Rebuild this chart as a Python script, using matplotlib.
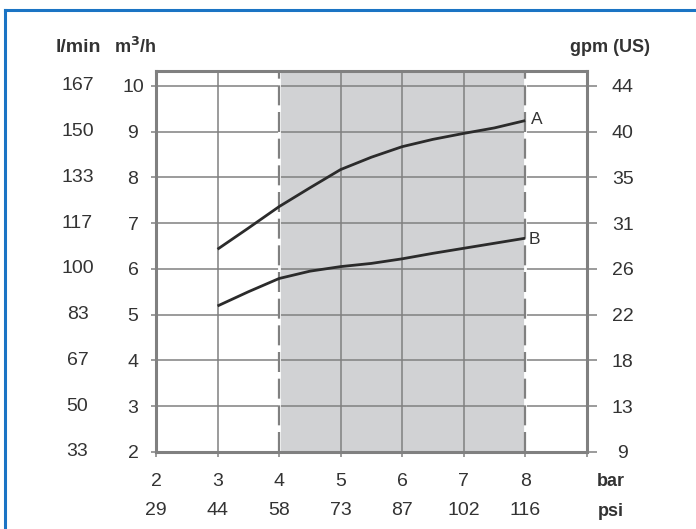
import matplotlib
matplotlib.use("Agg")
import matplotlib.pyplot as plt
from matplotlib.lines import Line2D

# ---- data ----
bar_ticks = [2, 3, 4, 5, 6, 7, 8]
psi_labels = ["29", "44", "58", "73", "87", "102", "116"]
m3h_ticks = [2, 3, 4, 5, 6, 7, 8, 9, 10]
lmin_labels = ["33", "50", "67", "83", "100", "117", "133", "150", "167"]
gpm_labels = ["9", "13", "18", "22", "26", "31", "35", "40", "44"]

pressure = [3, 3.5, 4, 4.5, 5, 5.5, 6, 6.5, 7, 7.5, 8]
flow_A = [6.43, 6.89, 7.36, 7.77, 8.17, 8.44, 8.67, 8.83, 8.96, 9.08, 9.24]
flow_B = [5.19, 5.50, 5.79, 5.95, 6.05, 6.12, 6.22, 6.34, 6.45, 6.56, 6.67]
shade_range = (4, 8)

W, H = 696, 529
fig = plt.figure(figsize=(W / 100, H / 100), dpi=100)
plt.rcParams['font.family'] = ['Liberation Sans', 'DejaVu Sans']

PX = 72 / 100  # points per pixel
TXT = '#333333'
GRID = '#808080'
FS = 14
HFS = 13

ax = fig.add_axes([156 / W, 1 - 452 / H, (586.7 - 156) / W, (452 - 70.7) / H])
ax.set_xlim(2, 9)
ax.set_ylim(2, 10.33)

ax.axvspan(shade_range[0], shade_range[1], color='#d1d2d4', zorder=0, lw=0)

# grid
for x in bar_ticks[1:]:
    if x in shade_range:
        continue
    ax.axvline(x, color=GRID, lw=1.1, zorder=1)
for y in m3h_ticks[1:]:
    ax.axhline(y, color=GRID, lw=1.1, zorder=1)

# dashed boundaries of the shaded range
for x in shade_range:
    ax.axvline(x, color='white', lw=2.0, zorder=2)
    ax.axvline(x, color=GRID, lw=1.6, zorder=3, linestyle=(0, (9, 3)))

ax.plot(pressure, flow_A, color='#2b2b2b', lw=2.0, zorder=5, solid_capstyle='butt')
ax.plot(pressure, flow_B, color='#2b2b2b', lw=2.0, zorder=5, solid_capstyle='butt')
ax.text(pressure[-1] + 0.1, flow_A[-1] + 0.03, "A", fontsize=12.5, color=TXT,
        ha='left', va='center')
ax.text(pressure[-1] + 0.05, flow_B[-1] - 0.02, "B", fontsize=12.5, color=TXT,
        ha='left', va='center')

for s in ax.spines.values():
    s.set_color(GRID)
    s.set_linewidth(2.2)

ax.set_xticks(bar_ticks + [9])
ax.set_xticklabels([])
ax.tick_params(axis='x', length=5 * PX, width=1.1, color=GRID, direction='out')
ax.set_yticks(m3h_ticks)
ax.set_yticklabels([str(v) for v in m3h_ticks], fontsize=FS, color=TXT, ha='center')
ax.tick_params(axis='y', length=5 * PX, width=1.1, color=GRID, direction='out',
               pad=18 * PX)

ax2 = ax.twinx()
ax2.set_ylim(ax.get_ylim())
ax2.set_yticks(m3h_ticks)
ax2.set_yticklabels(gpm_labels, fontsize=FS, color=TXT, ha='center')
ax2.tick_params(axis='y', length=10 * PX, width=1.1, color=GRID, direction='out',
                pad=26 * PX)
for s in ax2.spines.values():
    s.set_visible(False)

# l/min column
for v, lab in zip(m3h_ticks, lmin_labels):
    ax.annotate(lab, xy=(77.5, v), xycoords=('figure pixels', 'data'),
                fontsize=FS, color=TXT, ha='center', va='center')

# bottom rows
for v, b, p in zip(bar_ticks, bar_ticks, psi_labels):
    ax.annotate(str(b), xy=(v, H - 481), xycoords=('data', 'figure pixels'),
                fontsize=FS, color=TXT, ha='center', va='center')
    ax.annotate(p, xy=(v, H - 510.5), xycoords=('data', 'figure pixels'),
                fontsize=FS, color=TXT, ha='center', va='center')

# headers
fig.text(78.5 / W, 1 - 47 / H, "l/min", fontsize=HFS + 1, fontweight='bold', color=TXT,
         ha='center', va='center')
fig.text(135 / W, 1 - 47 / H, "m$^{\\mathbf{3}}$/h", fontsize=HFS, fontweight='bold',
         color=TXT, ha='center', va='center')
fig.text(610 / W, 1 - 47.5 / H, "gpm (US)", fontsize=HFS, fontweight='bold', color=TXT,
         ha='center', va='center')
fig.text(610.5 / W, 1 - 481.5 / H, "bar", fontsize=HFS, fontweight='bold', color=TXT,
         ha='center', va='center')
fig.text(610.5 / W, 1 - 511 / H, "psi", fontsize=HFS, fontweight='bold', color=TXT,
         ha='center', va='center')

# blue frame (top and left)
fig.add_artist(Line2D([5 / W, 1], [1 - 10 / H, 1 - 10 / H], color='#1b74c4', lw=2.2,
                      transform=fig.transFigure))
fig.add_artist(Line2D([5 / W, 5 / W], [1 - 10 / H, 0], color='#1b74c4', lw=2.2,
                      transform=fig.transFigure))

fig.savefig("out.png", dpi=100)
